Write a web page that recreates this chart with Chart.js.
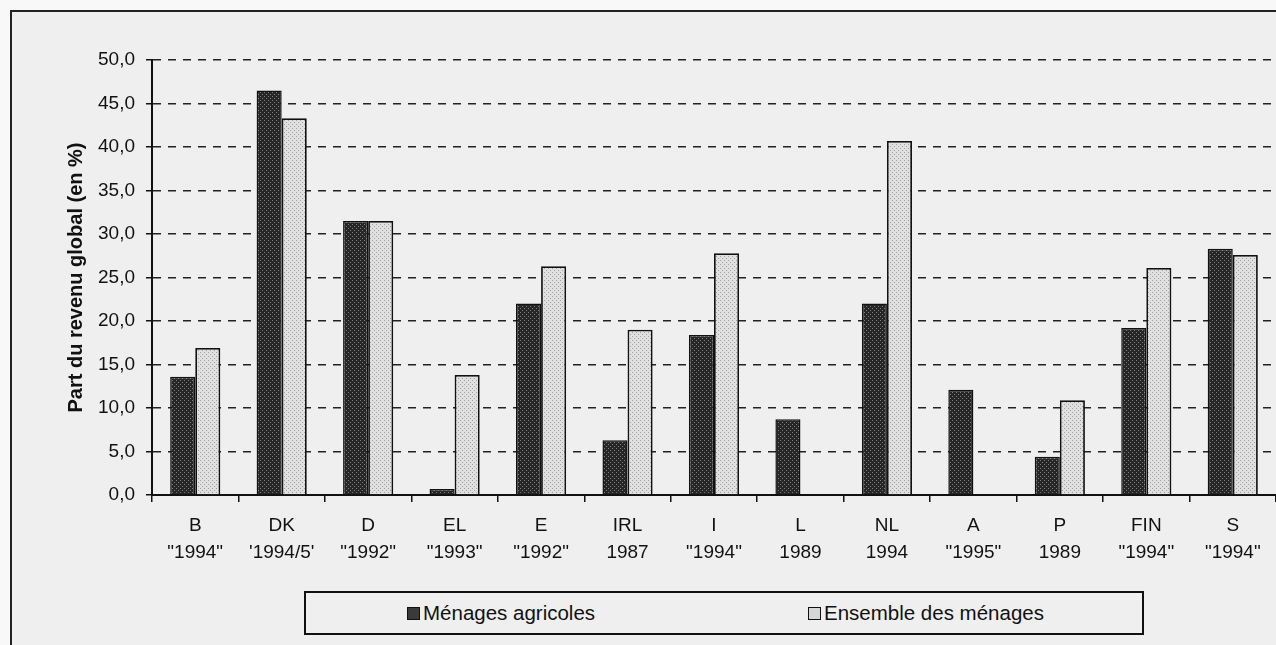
<!DOCTYPE html>
<html>
<head>
<meta charset="utf-8">
<script src="https://cdn.jsdelivr.net/npm/chart.js@4/dist/chart.umd.min.js"></script>
<style>
  html, body { margin:0; padding:0; background:#f8f8f8; width:1276px; height:645px; overflow:hidden; }
  #frame { position:absolute; left:10px; top:10px; width:1300px; height:700px; border-left:2px solid #222; border-top:2px solid #222; background:#efefef; }
  #wrap { position:absolute; left:0; top:0; width:1276px; height:645px; }
  #legend { position:absolute; left:304px; top:591px; width:836px; height:40px; border:2px solid #111; background:#efefef;
            font-family:"Liberation Sans", Arial, sans-serif; font-size:20.5px; color:#111; }
  .item { position:absolute; top:8px; white-space:nowrap; }
  .sw { display:inline-block; width:11px; height:11px; border:1px solid #111; margin-right:3px; vertical-align:0px; }
</style>
</head>
<body>
<div id="frame"></div>
<div id="wrap"><canvas id="c" width="1276" height="645"></canvas></div>
<div id="legend">
  <div class="item" style="left:101px"><span class="sw" id="sw0"></span><span id="lg0"></span></div>
  <div class="item" style="left:502px"><span class="sw" id="sw1"></span><span id="lg1"></span></div>
</div>
<script>
const countries = ['B','DK','D','EL','E','IRL','I','L','NL','A','P','FIN','S'];
const years = ['"1994"',"'1994/5'",'"1992"','"1993"','"1992"','1987','"1994"','1989','1994','"1995"','1989','"1994"','"1994"'];
const seriesNames = ['Ménages agricoles', 'Ensemble des ménages'];
const menagesAgricoles = [13.6, 46.5, 31.5, 0.7, 22.0, 6.3, 18.4, 8.7, 22.0, 12.1, 4.4, 19.2, 28.3];
const ensembleMenages  = [16.9, 43.3, 31.5, 13.8, 26.3, 19.0, 27.8, null, 40.7, null, 10.9, 26.1, 27.6];
const yTickLabels = ['0,0','5,0','10,0','15,0','20,0','25,0','30,0','35,0','40,0','45,0','50,0'];
const yAxisTitle = 'Part du revenu global (en %)';

const canvas = document.getElementById('c');
const ctx = canvas.getContext('2d');
function makePattern(base, dot) {
  const p = document.createElement('canvas');
  p.width = 4; p.height = 4;
  const g = p.getContext('2d');
  g.fillStyle = base; g.fillRect(0, 0, 4, 4);
  g.fillStyle = dot; g.fillRect(0, 0, 1, 1); g.fillRect(2, 2, 1, 1);
  return ctx.createPattern(p, 'repeat');
}
const darkFill = makePattern('#262626', '#7e7e7e');
const lightFill = makePattern('#e0e0e0', '#a0a0a0');

document.getElementById('lg0').textContent = seriesNames[0];
document.getElementById('lg1').textContent = seriesNames[1];
document.getElementById('sw0').style.background = '#3a3a3a';
document.getElementById('sw1').style.background = '#d6d6d6';

const FONT = '"Liberation Sans", Arial, sans-serif';

new Chart(canvas, {
  type: 'bar',
  data: {
    labels: countries.map((c, i) => [c, years[i]]),
    datasets: [
      { label: seriesNames[0], data: menagesAgricoles, backgroundColor: darkFill, borderColor: '#111', borderWidth: 1.5, borderSkipped: 'bottom' },
      { label: seriesNames[1], data: ensembleMenages, backgroundColor: lightFill, borderColor: '#111', borderWidth: 1.8, borderSkipped: 'bottom' }
    ]
  },
  options: {
    responsive: false,
    animation: false,
    layout: { padding: { left: 0, right: 0, top: 60, bottom: 0 } },
    datasets: { bar: { categoryPercentage: 0.58, barPercentage: 1.0 } },
    plugins: { legend: { display: false }, tooltip: { enabled: false } },
    scales: {
      x: {
        offset: true,
        afterFit: s => { s.height = 150; },
        grid: { display: true, drawOnChartArea: false, drawTicks: true, tickLength: 7, color: '#111', lineWidth: 1.5, offset: true },
        border: { display: true, color: '#111', width: 2 },
        ticks: { color: '#111', font: { family: FONT, size: 19, lineHeight: 1.42 }, padding: 10, maxRotation: 0, autoSkip: false }
      },
      y: {
        min: 0, max: 50,
        afterFit: s => { s.width = 152; },
        grid: { color: '#222', lineWidth: 1.5, drawTicks: true, tickLength: 6, tickColor: '#111', tickBorderDash: [] },
        border: { display: true, color: '#111', width: 2, dash: [8, 7] },
        ticks: { stepSize: 5, color: '#111', padding: 11, font: { family: FONT, size: 19 },
                 callback: (v, i) => yTickLabels[Math.round(v / 5)] },
        title: { display: true, text: yAxisTitle, color: '#111', font: { family: FONT, size: 20, weight: 'bold' }, padding: { top: 64, bottom: 0 } }
      }
    }
  }
});
</script>
</body>
</html>
